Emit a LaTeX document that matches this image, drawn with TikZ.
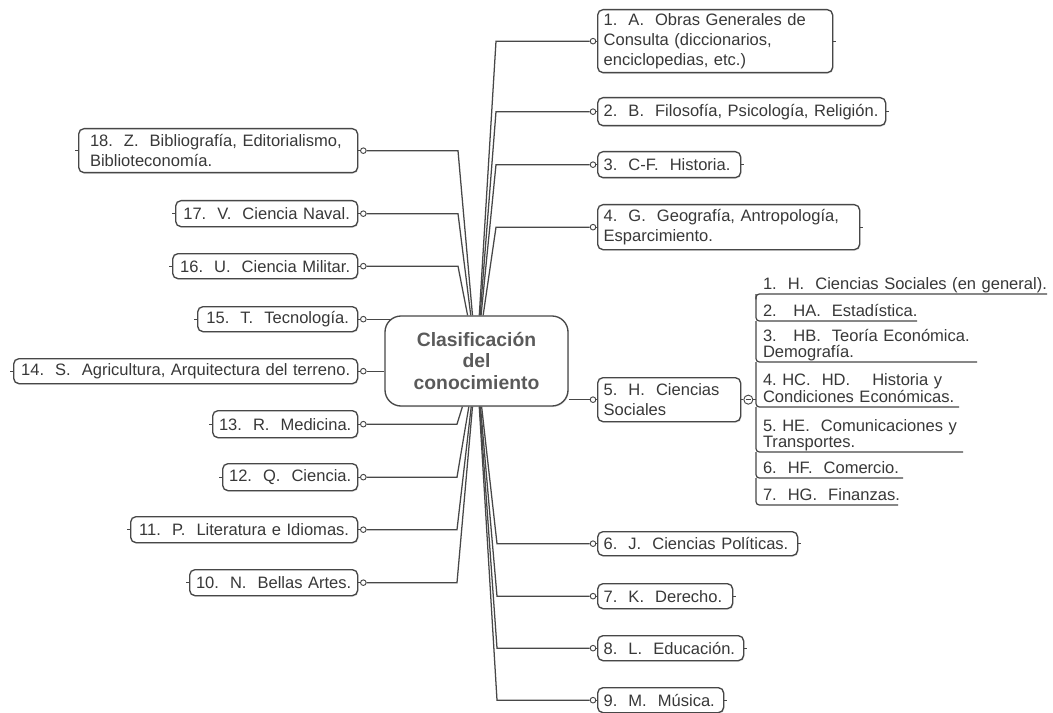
\documentclass[tikz,border=0pt]{standalone}
\usepackage{fontspec}
\setmainfont{Liberation Sans}
\usetikzlibrary{calc,shadows}

\definecolor{ink}{HTML}{383838}
\definecolor{edge}{HTML}{474747}
\definecolor{title}{HTML}{5A5A5A}

\tikzset{
  topic/.style={draw=edge, line width=1pt, rounded corners=4pt, fill=white,
    text=ink, inner xsep=4.5pt, inner ysep=0pt, align=left,
    font=\fontsize{12.4}{14.8}\selectfont,
    drop shadow={shadow xshift=0.6pt, shadow yshift=-0.8pt, opacity=0.22}},
  hub/.style={draw=edge, line width=1pt, rounded corners=12pt, fill=white,
    text=title, align=center, font=\bfseries\fontsize{14.5}{16.2}\selectfont,
    drop shadow={shadow xshift=0.6pt, shadow yshift=-0.8pt, opacity=0.22}},
  subtopic/.style={inner xsep=5.25pt, inner ysep=0.5pt, outer sep=0pt,
    align=left, text=ink, text width=230pt,
    font=\fontsize{12.4}{11.7}\selectfont},
  conn/.style={draw=edge, line width=0.95pt},
  knob/.style={circle, draw=edge, fill=white, line width=0.7pt,
    minimum size=4.2pt, inner sep=0pt},
  fold/.style={circle, draw=edge, fill=white, line width=0.7pt,
    minimum size=6.8pt, inner sep=0pt,
    path picture={\draw[edge, line width=0.6pt]
      ([xshift=1.5pt]path picture bounding box.west) --
      ([xshift=-1.5pt]path picture bounding box.east);}},
}

% topic box given by its left, top, right and bottom edges (px)
\newcommand\topicbox[7][]{%
  \pgfmathsetmacro\tbw{(#5-#3)*0.75}%
  \pgfmathsetmacro\tbh{(#6-#4)*0.75}%
  \pgfmathsetmacro\tbt{(#5-#3)*0.75-9}%
  \node[topic, anchor=north west, minimum width=\tbw pt,
    minimum height=\tbh pt, text width=\tbt pt, #1] (#2) at (#3,#4) {#7};}

% underlined sub-topic: name, underline y, underline end x, text
\newcommand\subtopic[4]{%
  \node[subtopic, anchor=south west] (#1) at (756,#2)
    {#4\rule[-2.9pt]{0pt}{2.9pt}};
  \coordinate (#1e) at (#3,#2);}

\begin{document}
\begin{tikzpicture}[x=0.75pt, y=-0.75pt]
\useasboundingbox (0,0) rectangle (1053,713);
\fill[white] (0,0) rectangle (1053,713);

% central topic
\node[hub, minimum width=137.25pt, minimum height=67.5pt] (c) at (476.5,361)
  {Clasificación\\del\\conocimiento};

% right-hand topics
\topicbox{b1}{597}{9}{832}{72}{1.\ \ A.\ \ Obras Generales de\\Consulta (diccionarios,\\enciclopedias, etc.)}
\topicbox{b2}{597}{97}{885}{125}{2.\ \ B.\ \ Filosofía, Psicología, Religión.}
\topicbox{b3}{597}{151}{740}{177}{3.\ \ C-F.\ \ Historia.}
\topicbox{b4}{597}{204}{859}{249}{4.\ \ G.\ \ Geografía, Antropología,\\Esparcimiento.}
\topicbox{b5}{597}{377}{740}{421}{5.\ \ H.\ \ Ciencias\\Sociales}
\topicbox{b6}{597}{531}{797}{555}{6.\ \ J.\ \ Ciencias Políticas.}
\topicbox{b7}{597}{583}{732}{608}{7.\ \ K.\ \ Derecho.}
\topicbox{b8}{597}{635}{743}{660}{8.\ \ L.\ \ Educación.}
\topicbox{b9}{597}{687}{723}{712}{9.\ \ M.\ \ Música.}

% left-hand topics
\topicbox{b18}{78}{128}{357}{172}{\hspace*{4pt}18.\ \ Z.\ \ Bibliografía, Editorialismo,\\\hspace*{4pt}Biblioteconomía.}
\topicbox[align=center]{b17}{175}{200}{357}{226}{17.\ \ V.\ \ Ciencia Naval.}
\topicbox[align=center]{b16}{172}{253}{357}{278}{16.\ \ U.\ \ Ciencia Militar.}
\topicbox[align=center]{b15}{197}{306}{357}{331}{15.\ \ T.\ \ Tecnología.}
\topicbox[align=center]{b14}{13}{358}{357}{383}{14.\ \ S.\ \ Agricultura, Arquitectura del terreno.}
\topicbox[align=center]{b13}{212}{410}{357}{437}{13.\ \ R.\ \ Medicina.}
\topicbox[align=center]{b12}{222}{463}{357}{490}{12.\ \ Q.\ \ Ciencia.}
\topicbox[align=center]{b11}{130}{516}{357}{542}{11.\ \ P.\ \ Literatura e Idiomas.}
\topicbox[align=center]{b10}{189}{569}{357}{595}{10.\ \ N.\ \ Bellas Artes.}

% connection knobs
\foreach \b in {1,...,9}{
  \node[knob] (d\b) at ([xshift=-3pt]b\b.west) {};
  \draw[conn] (d\b.east) -- (b\b.west);
}
\foreach \b in {10,...,18}{
  \node[knob] (d\b) at ([xshift=3.75pt]b\b.east) {};
  \draw[conn] (d\b.west) -- (b\b.east);
}

% collapse stubs
\foreach \b in {1,2,3,4,6,7,8,9}{
  \draw[conn] (b\b.east) -- ++(3,0);
}
\foreach \b in {10,...,18}{
  \draw[conn] (b\b.west) -- ++(-3,0);
}

% branches to the right
\foreach \b in {1,2,3,4}{
  \draw[conn] (c) -- (496,0 |- d\b) -- (d\b);
}
\foreach \b in {6,7,8,9}{
  \draw[conn] (c) -- (497,0 |- d\b) -- (d\b);
}
\draw[conn] (c.east |- d5) -- (d5);

% branches to the left
\foreach \b in {16,17,18}{
  \draw[conn] (c) -- (458,0 |- d\b) -- (d\b);
}
\foreach \b in {10,11,12,13}{
  \draw[conn] (c) -- (457,0 |- d\b) -- (d\b);
}
\draw[conn] (d15) -- ($(c.north west |- d15)+(8,0)$);
\draw[conn] (d14) -- (c.west |- d14);

% sub-topics of 5. H.
\subtopic{s1}{294}{1047}{1.\ \ H.\ \ Ciencias Sociales (en general).}
\subtopic{s2}{321}{917}{2.\ \ \ HA.\ \ Estadística.}
\subtopic{s3}{362}{977}{3.\ \ \ HB.\ \ Teoría Económica.\\Demografía.}
\subtopic{s4}{407}{959}{4.\ HC.\ \ HD.\ \ \ \ Historia y\\Condiciones Económicas.}
\subtopic{s5}{452}{963}{5.\ HE.\ \ Comunicaciones y\\Transportes.}
\subtopic{s6}{478}{903}{6.\ \ HF.\ \ Comercio.}
\subtopic{s7}{505}{898}{7.\ \ HG.\ \ Finanzas.}

\draw[conn, rounded corners=2.5pt] ([yshift=-4pt]s1.south west) -- (s1.south west) -- (s1e);
\foreach \p/\q in {s1/s2,s2/s3,s3/s4,s4/s5,s5/s6,s6/s7}{
  \draw[conn, rounded corners=2.5pt] (\p.south west) -- (\q.south west) -- (\q e);
}

\node[fold] (col) at ([xshift=5.25pt]b5.east) {};
\draw[conn] (b5.east) -- (col);
\draw[conn] (col) -- (s4.west |- col);
\end{tikzpicture}
\end{document}
